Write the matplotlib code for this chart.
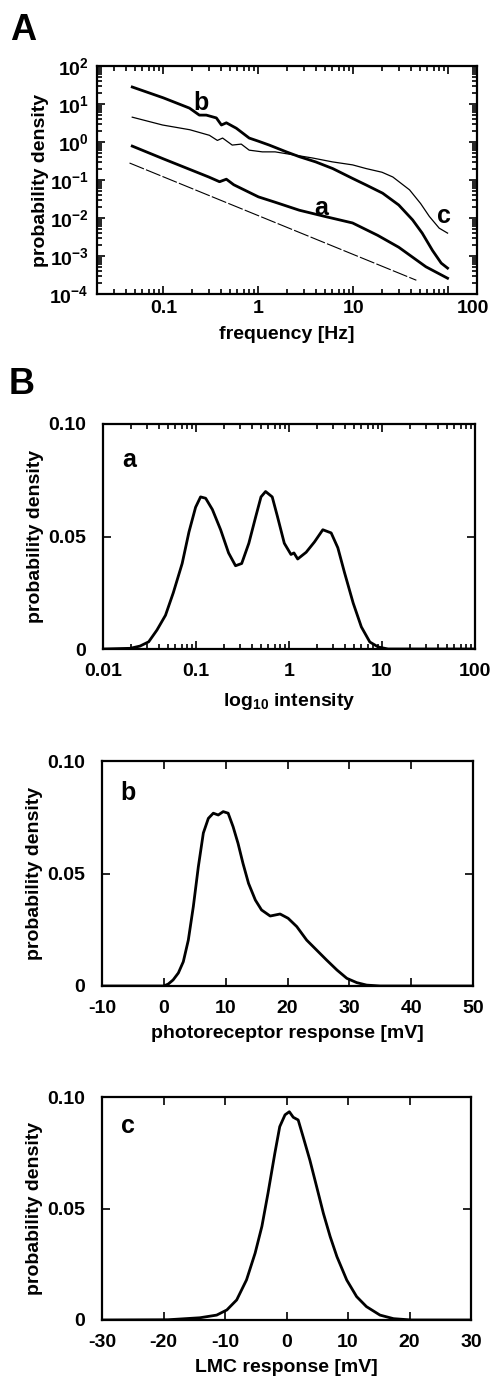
import matplotlib
matplotlib.use("Agg")
import matplotlib.pyplot as plt
from matplotlib.ticker import FixedLocator, NullFormatter, NullLocator
import numpy as np

plt.rcParams["font.family"] = ["Liberation Sans", "DejaVu Sans"]
plt.rcParams["font.weight"] = "bold"
plt.rcParams["mathtext.fontset"] = "custom"
plt.rcParams["mathtext.rm"] = "Liberation Sans:bold"
plt.rcParams["mathtext.bf"] = "Liberation Sans:bold"
plt.rcParams["mathtext.default"] = "rm"
plt.rcParams["axes.unicode_minus"] = False

# --- panel A: power spectra ---
freq_b = [0.047, 0.10, 0.188, 0.239, 0.283, 0.361, 0.408, 0.46, 0.586, 0.80, 1.0,
          1.30, 1.97, 2.7, 4.0, 6.06, 9.8, 13.6, 20.3, 30, 42, 53, 68, 84, 98]
spec_b = [28, 14.5, 7.8, 5.1, 5.1, 4.3, 2.8, 3.2, 2.3, 1.27, 1.05,
          0.83, 0.55, 0.41, 0.30, 0.20, 0.11, 0.074, 0.045, 0.022, 0.0089, 0.004, 0.0014, 0.00065, 0.00048]

freq_c = [0.047, 0.098, 0.19, 0.305, 0.37, 0.42, 0.53, 0.66, 0.8, 1.1, 1.5,
          2.2, 3.7, 6.0, 9.8, 13.6, 20, 26, 39, 51, 63, 80, 98]
spec_c = [4.5, 2.8, 2.1, 1.5, 1.1, 1.27, 0.83, 0.88, 0.61, 0.55, 0.55,
          0.47, 0.38, 0.30, 0.25, 0.20, 0.16, 0.12, 0.055, 0.024, 0.011, 0.0054, 0.004]

freq_a = [0.047, 0.10, 0.24, 0.30, 0.39, 0.46, 0.55, 1.0, 1.5, 2.7, 5.0,
          9.8, 18, 30, 58, 98]
spec_a = [0.78, 0.36, 0.15, 0.12, 0.09, 0.105, 0.075, 0.036, 0.026, 0.016, 0.011,
          0.0074, 0.0035, 0.0017, 0.00052, 0.00026]

freq_ref = [0.044, 46]
spec_ref = [0.28, 0.00023]

# --- panel B: amplitude distributions ---
intensity = [0.01, 0.0196, 0.025, 0.031, 0.038, 0.047, 0.057, 0.071, 0.084, 0.099, 0.112,
             0.127, 0.15, 0.184, 0.224, 0.266, 0.31, 0.37, 0.44, 0.50, 0.56, 0.66, 0.75,
             0.89, 1.05, 1.13, 1.24, 1.53, 1.88, 2.31, 2.84, 3.35, 3.95, 4.9, 6.0, 7.4,
             9.1, 11.6, 100]
dens_int = [0.0, 0.0003, 0.0013, 0.0032, 0.0084, 0.015, 0.025, 0.038, 0.052, 0.063, 0.0676,
            0.067, 0.062, 0.053, 0.0427, 0.037, 0.038, 0.047, 0.059, 0.0676, 0.070, 0.0676, 0.059,
            0.047, 0.042, 0.0427, 0.040, 0.043, 0.0476, 0.053, 0.0516, 0.045, 0.034, 0.0204, 0.0098, 0.0031,
            0.0009, 0.0, 0.0]

photo_mv = [-10, 0, 0.73, 1.5, 2.35, 3.15, 3.96, 4.77, 5.58, 6.39, 7.2, 8.0, 8.8, 9.6,
            10.4, 11.2, 12.0, 12.8, 13.7, 14.8, 15.8, 17.2, 18.8, 20.1, 21.5, 23.1, 24.7,
            26.3, 28.0, 29.6, 31.2, 32.8, 35, 50]
dens_photo = [0.0, 0.0, 0.0009, 0.0027, 0.0058, 0.0108, 0.0204, 0.0353, 0.053, 0.068, 0.0745, 0.0768, 0.076, 0.0775,
              0.0768, 0.0708, 0.0634, 0.0545, 0.0456, 0.0382, 0.0338, 0.0311, 0.032, 0.0301, 0.0264, 0.0204, 0.016,
              0.0116, 0.0071, 0.0034, 0.0015, 0.0004, 0.0, 0.0]

lmc_mv = [-30, -19.3, -14.1, -11.35, -9.7, -8.1, -6.5, -5.1, -4.0, -3.0, -1.9, -1.1, -0.24,
          0.46, 1.1, 1.9, 2.7, 3.8, 4.9, 6.0, 7.1, 8.2, 9.8, 11.4, 13.0, 15.2, 17.4, 20.3, 30]
dens_lmc = [0.0, 0.0001, 0.001, 0.0022, 0.0045, 0.009, 0.018, 0.030, 0.042, 0.057, 0.0747, 0.0867, 0.092,
            0.0934, 0.0909, 0.0897, 0.0822, 0.0717, 0.0598, 0.0478, 0.0374, 0.0284, 0.0179, 0.0105, 0.006,
            0.0022, 0.0006, 0.0, 0.0]

W, H = 499, 1385
fig = plt.figure(figsize=(W / 100, H / 100), dpi=100)
fig.patch.set_facecolor("white")

FS = 14


def box(px_left, px_top, px_right, px_bottom):
    return fig.add_axes([px_left / W, 1 - px_bottom / H,
                         (px_right - px_left) / W, (px_bottom - px_top) / H])


def style(ax, xpad=6, ypad=6):
    for s in ax.spines.values():
        s.set_linewidth(1.6)
    ax.tick_params(which="both", direction="in", top=True, right=True,
                   labelsize=FS, width=1.2)
    ax.tick_params(which="major", length=6)
    ax.tick_params(which="minor", length=3.5)
    ax.tick_params(axis="x", which="major", pad=xpad)
    ax.tick_params(axis="y", which="major", pad=ypad)


# panel A
axA = box(97, 66, 477, 294)
axA.set_xscale("log")
axA.set_yscale("log")
axA.plot(freq_b, spec_b, color="black", lw=2.0)
axA.plot(freq_c, spec_c, color="black", lw=0.9)
axA.plot(freq_a, spec_a, color="black", lw=2.0)
axA.plot(freq_ref, spec_ref, color="black", lw=0.8, ls=(0, (14, 2)))
axA.set_xlim(0.02, 200)
axA.set_ylim(1e-4, 1e2)
style(axA, xpad=4, ypad=6)
axA.xaxis.set_major_locator(FixedLocator([0.1, 1, 10, 100]))
axA.set_xticklabels(["0.1", "1", "10", ""])
axA.xaxis.set_minor_locator(FixedLocator(
    [m * 10.0 ** e for e in (-2, -1, 0, 1) for m in range(2, 10) if m * 10.0 ** e > 0.021]))
axA.xaxis.set_minor_formatter(NullFormatter())
ydec = [-4, -3, -2, -1, 0, 1, 2]
axA.yaxis.set_major_locator(FixedLocator([10.0 ** e for e in ydec]))
axA.set_yticklabels([r"$10^{%d}$" % e for e in ydec])
axA.yaxis.set_minor_locator(FixedLocator(
    [m * 10.0 ** e for e in ydec[:-1] for m in range(2, 10)]))
axA.yaxis.set_minor_formatter(NullFormatter())
axA.text(0.99, -0.025, "100", transform=axA.transAxes, ha="center", va="top",
         fontsize=FS, fontweight="bold")
axA.set_xlabel("frequency [Hz]", fontsize=FS, fontweight="bold", labelpad=7)
axA.set_ylabel("probability density", fontsize=FS, fontweight="bold", labelpad=0)
axA.text(0.25, 10.5, "b", fontsize=18, fontweight="bold", ha="center", va="center")
axA.text(4.6, 0.018, "a", fontsize=18, fontweight="bold", ha="center", va="center")
axA.text(90, 0.0116, "c", fontsize=18, fontweight="bold", ha="center", va="center")
fig.text(23 / W, 1 - 30 / H, "A", fontsize=26, fontweight="bold", ha="center", va="center")


def dist_axis(ax):
    ax.set_ylim(0, 0.1)
    ax.set_yticks([0, 0.05, 0.10])
    ax.set_yticklabels(["0", "0.05", "0.10"])
    ax.set_ylabel("probability density", fontsize=FS, fontweight="bold", labelpad=3)
    style(ax, xpad=10, ypad=12)


# panel B-a
axBa = box(103, 424, 475, 649)
axBa.set_xscale("log")
axBa.plot(intensity, dens_int, color="black", lw=2.0)
axBa.set_xlim(0.01, 100)
dist_axis(axBa)
axBa.xaxis.set_major_locator(FixedLocator([0.01, 0.1, 1, 10, 100]))
axBa.set_xticklabels(["0.01", "0.1", "1", "10", "100"])
axBa.xaxis.set_minor_locator(FixedLocator(
    [m * 10.0 ** e for e in (-2, -1, 0, 1) for m in range(2, 10)]))
axBa.xaxis.set_minor_formatter(NullFormatter())
axBa.yaxis.set_minor_locator(NullLocator())
axBa.set_xlabel(r"log$_{10}$ intensity", fontsize=FS, fontweight="bold", labelpad=8)
axBa.text(0.07, 0.84, "a", transform=axBa.transAxes, fontsize=18, fontweight="bold",
          ha="center", va="center")
fig.text(22 / W, 1 - 385 / H, "B", fontsize=26, fontweight="bold", ha="center", va="center")

# panel B-b
axBb = box(102, 761, 473, 986)
axBb.plot(photo_mv, dens_photo, color="black", lw=2.0)
axBb.set_xlim(-10, 50)
dist_axis(axBb)
axBb.set_xticks(np.arange(-10, 51, 10))
axBb.set_xlabel("photoreceptor response [mV]", fontsize=FS, fontweight="bold", labelpad=6)
axBb.text(0.07, 0.86, "b", transform=axBb.transAxes, fontsize=18, fontweight="bold",
          ha="center", va="center")

# panel B-c
axBc = box(102, 1097, 471, 1320)
axBc.plot(lmc_mv, dens_lmc, color="black", lw=2.0)
axBc.set_xlim(-30, 30)
dist_axis(axBc)
axBc.set_xticks(np.arange(-30, 31, 10))
axBc.set_xlabel("LMC response [mV]", fontsize=FS, fontweight="bold", labelpad=6)
axBc.text(0.07, 0.87, "c", transform=axBc.transAxes, fontsize=18, fontweight="bold",
          ha="center", va="center")

fig.savefig("out.png", dpi=100)
